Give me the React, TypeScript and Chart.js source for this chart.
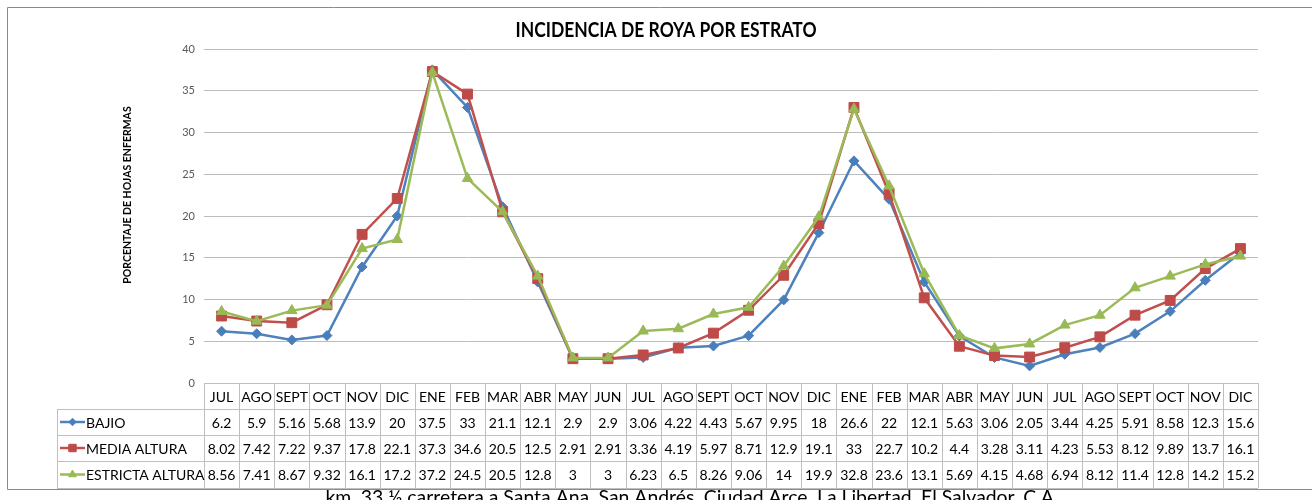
import React, { useEffect, useRef } from "react";
import { Chart, registerables } from "chart.js";

Chart.register(...registerables);

const TITLE = "INCIDENCIA DE ROYA POR ESTRATO";
const Y_TITLE = "PORCENTAJE DE HOJAS ENFERMAS";
const FOOTER = "km. 33 ½ carretera a Santa Ana, San Andrés, Ciudad Arce, La Libertad, El Salvador, C.A.";

const MONTHS = ["JUL", "AGO", "SEPT", "OCT", "NOV", "DIC", "ENE", "FEB", "MAR", "ABR", "MAY", "JUN", "JUL", "AGO", "SEPT", "OCT", "NOV", "DIC", "ENE", "FEB", "MAR", "ABR", "MAY", "JUN", "JUL", "AGO", "SEPT", "OCT", "NOV", "DIC"];

const SERIES_NAMES = ["BAJIO", "MEDIA ALTURA", "ESTRICTA ALTURA"];

const BAJIO = [6.2, 5.9, 5.16, 5.68, 13.9, 20, 37.5, 33, 21.1, 12.1, 2.9, 2.9, 3.06, 4.22, 4.43, 5.67, 9.95, 18, 26.6, 22, 12.1, 5.63, 3.06, 2.05, 3.44, 4.25, 5.91, 8.58, 12.3, 15.6];
const MEDIA_ALTURA = [8.02, 7.42, 7.22, 9.37, 17.8, 22.1, 37.3, 34.6, 20.5, 12.5, 2.91, 2.91, 3.36, 4.19, 5.97, 8.71, 12.9, 19.1, 33, 22.7, 10.2, 4.4, 3.28, 3.11, 4.23, 5.53, 8.12, 9.89, 13.7, 16.1];
const ESTRICTA_ALTURA = [8.56, 7.41, 8.67, 9.32, 16.1, 17.2, 37.2, 24.5, 20.5, 12.8, 3, 3, 6.23, 6.5, 8.26, 9.06, 14, 19.9, 32.8, 23.6, 13.1, 5.69, 4.15, 4.68, 6.94, 8.12, 11.4, 12.8, 14.2, 15.2];

const Y_MIN = 0;
const Y_MAX = 40;
const Y_STEP = 5;

const LINE_COLORS = ["#4F81BD", "#C0504D", "#9BBB59"];
const MARKER_COLORS = ["#4A7EBB", "#BE4B48", "#98B954"];
const MARKER_STYLES = ["rectRot", "rect", "triangle"];
const MARKER_RADII = [5, 7, 6];

const W = 1312;
const H = 500;
const TABLE_FONT = "14px Lato";
const GRID_COLOR = "#bcbcbc";
const TABLE_LINE = "#bfbfbf";
const BORDER_COLOR = "#8a8a8a";

function drawMarker(ctx: CanvasRenderingContext2D, style: string, r: number, x: number, y: number) {
  ctx.beginPath();
  if (style === "rectRot") {
    ctx.moveTo(x, y - r);
    ctx.lineTo(x + r, y);
    ctx.lineTo(x, y + r);
    ctx.lineTo(x - r, y);
  } else if (style === "rect") {
    const h = r * Math.SQRT1_2;
    ctx.rect(x - h, y - h, 2 * h, 2 * h);
  } else {
    const xo = Math.cos(Math.PI / 6) * r;
    ctx.moveTo(x, y - r);
    ctx.lineTo(x + xo, y + r / 2);
    ctx.lineTo(x - xo, y + r / 2);
  }
  ctx.closePath();
  ctx.fill();
  ctx.stroke();
}

const decorPlugin = {
  id: "decor",
  afterDraw(chart: any) {
    const ctx: CanvasRenderingContext2D = chart.ctx;
    const area = chart.chartArea;
    const xs = chart.scales.x;
    const n = MONTHS.length;
    const colW = (area.right - area.left) / n;
    const top = area.bottom;
    const rowY = [top, top + 26, top + 52, top + 78, top + 105];
    const legendLeft = 57;

    ctx.save();
    // outer chart border
    ctx.strokeStyle = BORDER_COLOR;
    ctx.lineWidth = 1;
    ctx.beginPath();
    ctx.moveTo(W, 7.5);
    ctx.lineTo(7.5, 7.5);
    ctx.lineTo(7.5, 489.5);
    ctx.lineTo(W, 489.5);
    ctx.stroke();

    // table lines
    ctx.strokeStyle = TABLE_LINE;
    ctx.beginPath();
    ctx.moveTo(area.left, Math.round(rowY[0]) + 0.5);
    ctx.lineTo(area.right, Math.round(rowY[0]) + 0.5);
    for (let r = 1; r < rowY.length; r++) {
      ctx.moveTo(legendLeft, Math.round(rowY[r]) + 0.5);
      ctx.lineTo(area.right, Math.round(rowY[r]) + 0.5);
    }
    for (let k = 0; k <= n; k++) {
      const xx = Math.round(area.left + k * colW) + 0.5;
      ctx.moveTo(xx, rowY[0]);
      ctx.lineTo(xx, rowY[4]);
    }
    ctx.moveTo(legendLeft + 0.5, rowY[1]);
    ctx.lineTo(legendLeft + 0.5, rowY[4]);
    ctx.stroke();

    // table text
    ctx.fillStyle = "#000";
    ctx.font = TABLE_FONT;
    ctx.textAlign = "center";
    ctx.textBaseline = "middle";
    const seriesData = [BAJIO, MEDIA_ALTURA, ESTRICTA_ALTURA];
    for (let i = 0; i < n; i++) {
      const cx = xs.getPixelForValue(i);
      ctx.fillText(MONTHS[i], cx, (rowY[0] + rowY[1]) / 2 + 1);
      for (let s = 0; s < 3; s++) {
        ctx.fillText(String(seriesData[s][i]), cx, (rowY[s + 1] + rowY[s + 2]) / 2 + 1);
      }
    }
    // legend keys
    ctx.textAlign = "left";
    for (let s = 0; s < 3; s++) {
      const cy = (rowY[s + 1] + rowY[s + 2]) / 2;
      ctx.strokeStyle = LINE_COLORS[s];
      ctx.lineWidth = 2.5;
      ctx.beginPath();
      ctx.moveTo(60, cy);
      ctx.lineTo(85, cy);
      ctx.stroke();
      ctx.fillStyle = MARKER_COLORS[s];
      ctx.strokeStyle = MARKER_COLORS[s];
      ctx.lineWidth = 1;
      drawMarker(ctx, MARKER_STYLES[s], MARKER_RADII[s] * 0.75, 72.5, cy);
      ctx.fillStyle = "#000";
      ctx.fillText(SERIES_NAMES[s], 86, cy + 1);
    }

    // title
    ctx.save();
    ctx.fillStyle = "#000";
    ctx.font = "bold 17.5px Lato";
    ctx.textAlign = "center";
    ctx.textBaseline = "middle";
    ctx.translate(666, 31);
    ctx.scale(1, 1.15);
    ctx.fillText(TITLE, 0, 0);
    ctx.restore();

    // y title
    ctx.save();
    ctx.fillStyle = "#000";
    ctx.textAlign = "center";
    ctx.textBaseline = "middle";
    ctx.translate(128, 195);
    ctx.rotate(-Math.PI / 2);
    ctx.font = "bold 10.5px Lato";
    ctx.fillText(Y_TITLE, 0, 0);
    ctx.restore();

    // footer
    ctx.fillStyle = "#000";
    ctx.textAlign = "center";
    ctx.font = "19.4px Lato";
    ctx.textBaseline = "alphabetic";
    ctx.fillText(FOOTER, 692, 504);
    ctx.restore();
  },
};

export default function App() {
  const ref = useRef<HTMLCanvasElement | null>(null);
  useEffect(() => {
    if (!ref.current) return;
    const seriesData = [BAJIO, MEDIA_ALTURA, ESTRICTA_ALTURA];
    const chart = new Chart(ref.current, {
      type: "line",
      data: {
        labels: MONTHS,
        datasets: seriesData.map((d, s) => ({
          label: SERIES_NAMES[s],
          data: d,
          borderColor: LINE_COLORS[s],
          backgroundColor: MARKER_COLORS[s],
          pointBackgroundColor: MARKER_COLORS[s],
          pointBorderColor: MARKER_COLORS[s],
          pointStyle: MARKER_STYLES[s] as any,
          pointRadius: MARKER_RADII[s],
          pointBorderWidth: 1,
          borderWidth: 2.5,
          tension: 0,
          fill: false,
          order: 3 - s,
        })),
      },
      options: {
        responsive: false,
        animation: false,
        devicePixelRatio: 1,
        layout: { padding: { left: 0, top: 49, right: W - 1258, bottom: H - 383 } },
        plugins: {
          legend: { display: false },
          title: { display: false },
          tooltip: { enabled: false },
        },
        scales: {
          x: {
            type: "category",
            display: false,
            offset: true,
          },
          y: {
            min: Y_MIN,
            max: Y_MAX,
            ticks: {
              stepSize: Y_STEP,
              color: "#595959",
              font: { family: "Lato", size: 11 },
              padding: 9,
            },
            grid: {
              color: GRID_COLOR,
              drawTicks: false,
              lineWidth: 1,
            },
            border: { display: false },
            afterFit: (scale: any) => {
              scale.width = 204;
            },
          },
        },
      },
      plugins: [decorPlugin],
    });
    return () => chart.destroy();
  }, []);
  return (
    <div style={{ position: "absolute", left: 0, top: 0, width: W, height: H, background: "#fff" }}>
      <canvas ref={ref} width={W} height={H} style={{ width: W, height: H, display: "block" }} />
    </div>
  );
}
